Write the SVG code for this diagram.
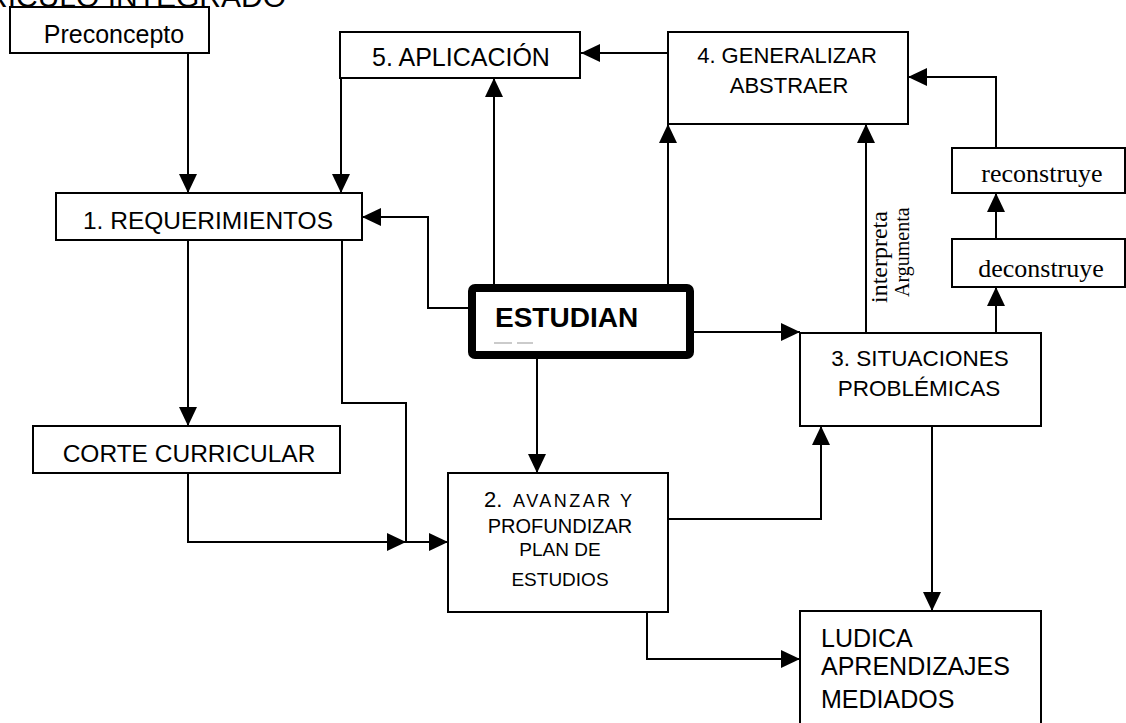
<svg xmlns="http://www.w3.org/2000/svg" width="1126" height="723" viewBox="0 0 1126 723">
  <style>
    .box { fill: #fff; stroke: #000; stroke-width: 2; }
    .wire { fill: none; stroke: #000; stroke-width: 2; }
    .sans { font-family: "Liberation Sans", Arial, sans-serif; fill: #000; }
    .serif { font-family: "Liberation Serif", "Times New Roman", serif; fill: #000; }
    .mid { text-anchor: middle; }
  </style>
  <defs>
    <marker id="arrow" markerUnits="userSpaceOnUse" markerWidth="20" markerHeight="20" refX="19" refY="9" orient="auto">
      <path d="M0,0 L19,9 L0,18 Z" fill="#000"/>
    </marker>
  </defs>
  <rect width="1126" height="723" fill="#fff"/>

  <!-- heading, running off the top edge -->
  <text class="sans" x="286" y="7" font-size="30" text-anchor="end">CURRICULO INTEGRADO</text>

  <!-- connectors -->
  <g id="connectors" class="wire">
    <path class="wire" d="M188,53 V193" marker-end="url(#arrow)"/>
    <path class="wire" d="M341,78 V193" marker-end="url(#arrow)"/>
    <path class="wire" d="M188,240 V426" marker-end="url(#arrow)"/>
    <path class="wire" d="M188,473 V542 H406" marker-end="url(#arrow)"/>
    <path class="wire" d="M342,240 V403 H406 V542 H448" marker-end="url(#arrow)"/>
    <path class="wire" d="M468,308 H428 V217 H362" marker-end="url(#arrow)"/>
    <path class="wire" d="M494,284 V78" marker-end="url(#arrow)"/>
    <path class="wire" d="M668,284 V124" marker-end="url(#arrow)"/>
    <path class="wire" d="M668,53 H581" marker-end="url(#arrow)"/>
    <path class="wire" d="M694,332 H800" marker-end="url(#arrow)"/>
    <path class="wire" d="M537,359 V473" marker-end="url(#arrow)"/>
    <path class="wire" d="M668,519 H821 V426" marker-end="url(#arrow)"/>
    <path class="wire" d="M866,333 V124" marker-end="url(#arrow)"/>
    <path class="wire" d="M996,333 V287" marker-end="url(#arrow)"/>
    <path class="wire" d="M996,239 V193" marker-end="url(#arrow)"/>
    <path class="wire" d="M996,148 V77 H908" marker-end="url(#arrow)"/>
    <path class="wire" d="M932,426 V611" marker-end="url(#arrow)"/>
    <path class="wire" d="M647,612 V659 H800" marker-end="url(#arrow)"/>
  </g>

  <!-- labels along the interpreta / argumenta connector -->
  <g id="edge-labels">
    <text class="serif" font-size="24" transform="translate(887,303) rotate(-90)">interpreta</text>
    <text class="serif" font-size="20" transform="translate(909,297) rotate(-90)">Argumenta</text>
  </g>

  <g id="preconcepto">
    <rect class="box" x="10" y="7" width="199" height="46"/>
    <text class="sans mid" x="114" y="43" font-size="25">Preconcepto</text>
  </g>

  <g id="aplicacion">
    <rect class="box" x="340" y="32" width="240" height="46"/>
    <text class="sans mid" x="461" y="66" font-size="25">5. APLICACIÓN</text>
  </g>

  <g id="generalizar">
    <rect class="box" x="668" y="32" width="240" height="92"/>
    <text class="sans mid" x="787" y="63" font-size="22">4. GENERALIZAR</text>
    <text class="sans mid" x="789" y="93" font-size="22">ABSTRAER</text>
  </g>

  <g id="requerimientos">
    <rect class="box" x="56" y="193" width="306" height="47"/>
    <text class="sans mid" x="208" y="229" font-size="24.5">1. REQUERIMIENTOS</text>
  </g>

  <g id="reconstruye">
    <rect class="box" x="952" y="148" width="173" height="45"/>
    <text class="serif mid" x="1042" y="182" font-size="26">reconstruye</text>
  </g>

  <g id="deconstruye">
    <rect class="box" x="952" y="239" width="173" height="48"/>
    <text class="serif mid" x="1041" y="277" font-size="26">deconstruye</text>
  </g>

  <g id="estudian">
    <rect x="472" y="288" width="218" height="67" rx="3" fill="#fff" stroke="#000" stroke-width="8"/>
    <text class="sans" x="495" y="327" font-size="28" font-weight="bold">ESTUDIAN</text>
    <path d="M494,343 H512 M517,343 H533" stroke="#bbb" stroke-width="1.5"/>
  </g>

  <g id="situaciones">
    <rect class="box" x="800" y="333" width="241" height="93"/>
    <text class="sans mid" x="920" y="366" font-size="22.5">3. SITUACIONES</text>
    <text class="sans mid" x="919" y="396" font-size="22.5">PROBLÉMICAS</text>
  </g>

  <g id="corte-curricular">
    <rect class="box" x="33" y="426" width="307" height="47"/>
    <text class="sans mid" x="189" y="462" font-size="24.5">CORTE CURRICULAR</text>
  </g>

  <g id="avanzar">
    <rect class="box" x="448" y="473" width="220" height="139"/>
    <text class="sans" x="484" y="507"><tspan font-size="22">2.</tspan><tspan x="513" font-size="18" letter-spacing="2.5">AVANZAR Y</tspan></text>
    <text class="sans mid" x="560" y="533" font-size="20">PROFUNDIZAR</text>
    <text class="sans mid" x="560" y="556" font-size="19">PLAN DE</text>
    <text class="sans mid" x="560" y="586" font-size="19">ESTUDIOS</text>
  </g>

  <g id="ludica">
    <rect class="box" x="800" y="611" width="241" height="122"/>
    <text class="sans" x="821" y="647" font-size="25">LUDICA</text>
    <text class="sans" x="821" y="675" font-size="25">APRENDIZAJES</text>
    <text class="sans" x="821" y="708" font-size="25">MEDIADOS</text>
  </g>
</svg>
